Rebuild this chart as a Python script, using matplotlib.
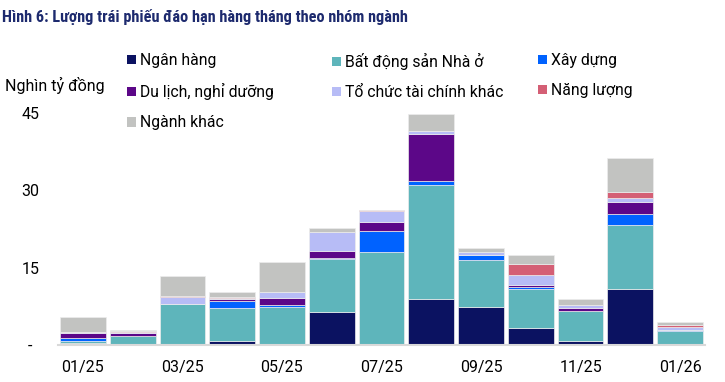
import matplotlib
matplotlib.use('Agg')
import matplotlib.pyplot as plt
from matplotlib.patches import Patch
import numpy as np

plt.rcParams['font.family'] = ['Roboto', 'DejaVu Sans']

months = ['01/25', '02/25', '03/25', '04/25', '05/25', '06/25', '07/25',
          '08/25', '09/25', '10/25', '11/25', '12/25', '01/26']

# nghin ty dong
ngan_hang = [0.4, 0.0, 0.0, 0.85, 0.1, 6.35, 0.0, 8.85, 7.4, 3.3, 0.85, 10.95, 0.0]
bat_dong_san = [0.4, 1.75, 8.0, 6.3, 7.3, 10.4, 18.0, 22.2, 9.1, 7.65, 5.8, 12.4, 2.8]
xay_dung = [0.5, 0.0, 0.0, 1.3, 0.4, 0.1, 4.15, 0.8, 1.05, 0.3, 0.0, 2.05, 0.2]
du_lich = [1.1, 0.5, 0.0, 0.45, 1.4, 1.35, 1.8, 9.0, 0.0, 0.3, 0.5, 2.4, 0.0]
to_chuc_tc = [0.15, 0.2, 1.35, 0.3, 1.0, 3.75, 1.95, 0.6, 0.4, 2.0, 0.6, 0.7, 0.45]
nang_luong = [0.0, 0.3, 0.2, 0.1, 0.0, 0.0, 0.25, 0.0, 0.0, 2.2, 0.0, 1.15, 0.4]
nganh_khac = [2.8, 0.1, 3.75, 1.0, 5.9, 0.65, 0.0, 3.4, 0.9, 1.7, 1.15, 6.7, 0.7]

series = [
    ('Ngân hàng', ngan_hang, '#0b1261'),
    ('Bất động sản Nhà ở', bat_dong_san, '#5eb5bb'),
    ('Xây dựng', xay_dung, '#0062ff'),
    ('Du lịch, nghỉ dưỡng', du_lich, '#5c0788'),
    ('Tổ chức tài chính khác', to_chuc_tc, '#b7bcf6'),
    ('Năng lượng', nang_luong, '#d45f75'),
    ('Ngành khác', nganh_khac, '#c2c3c1'),
]

W, H = 725, 382
fig = plt.figure(figsize=(W / 100, H / 100), dpi=100)
ax = fig.add_axes([58 / W, (H - 345) / H, (705 - 58) / W, (345 - 113) / H])

x = np.arange(len(months))
bottom = np.zeros(len(months))
handles = {}
for name, vals, color in series:
    vals = np.array(vals)
    ax.bar(x, vals, bottom=bottom, width=0.92, color=color,
           edgecolor='#ececec', linewidth=0.5)
    bottom += vals
    handles[name] = Patch(facecolor=color, edgecolor='none', label=name)

ax.set_xlim(-0.5, len(months) - 0.5)
ax.set_ylim(0, 45)
for s in ['top', 'right', 'left']:
    ax.spines[s].set_visible(False)
ax.spines['bottom'].set_color('#d9d9d9')
ax.spines['bottom'].set_linewidth(1.5)

ax.set_xticks(x[::2])
ax.set_xticklabels(months[::2], fontsize=11.5)
ax.set_yticks([0, 15, 30, 45])
ax.set_yticklabels(['-', '15', '30', '45'], fontsize=11.5, ha='center')
ax.tick_params(axis='x', length=0, pad=11)
ax.tick_params(axis='y', length=0, pad=20)

# title and unit
fig.text(2 / W, 1 - 17 / H, 'Hình 6: Lượng trái phiếu đáo hạn hàng tháng theo nhóm ngành',
         fontsize=11.7, fontweight='bold', color='#1d2a6e', va='center',
         family=['Roboto Condensed', 'Liberation Sans Narrow', 'Roboto', 'DejaVu Sans'])
fig.text(5 / W, 1 - 85 / H, 'Nghìn tỷ đồng', fontsize=11.5, va='center')

# legend in three fixed columns
columns = [
    (127, ['Ngân hàng', 'Du lịch, nghỉ dưỡng', 'Ngành khác']),
    (332, ['Bất động sản Nhà ở', 'Tổ chức tài chính khác']),
    (538, ['Xây dựng', 'Năng lượng']),
]
for xpos, names in columns:
    fig.legend(handles=[handles[n] for n in names], loc='upper left',
               bbox_to_anchor=(xpos / W, 1 - 53 / H), frameon=False,
               fontsize=11.3, handlelength=0.55, handleheight=0.55,
               handletextpad=0.3, labelspacing=0.97, borderpad=0,
               borderaxespad=0)

fig.savefig('out.png', dpi=100)
